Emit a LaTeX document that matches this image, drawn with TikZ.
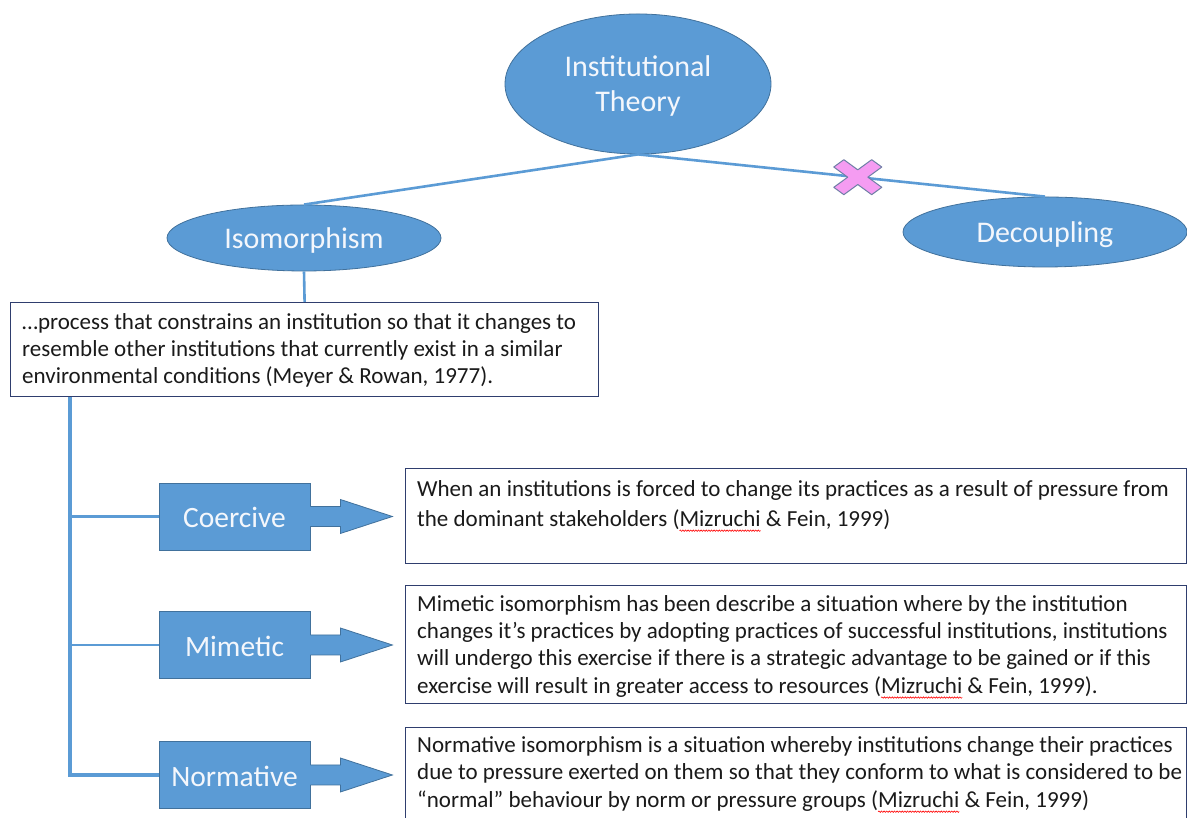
\documentclass[tikz,border=0pt]{standalone}
\usepackage{fontspec}
\setmainfont{Carlito}
\usetikzlibrary{shapes.geometric,calc,decorations.pathmorphing}
\definecolor{fillblue}{HTML}{5B9BD5}
\definecolor{edgeblue}{HTML}{41719C}
\definecolor{lineblue}{HTML}{5B9BD5}
\definecolor{navy}{HTML}{2F3E6E}
\definecolor{xpink}{HTML}{F59CF2}
\definecolor{xedge}{HTML}{6F7FA6}
\definecolor{txt}{HTML}{1A1A1A}
\definecolor{labelwhite}{HTML}{F4F7FC}
\newlength\spw
\newcommand{\spellwave}[1]{\settowidth{\spw}{#1}\rlap{\tikz[overlay,baseline=0pt]\draw[red,line width=0.6pt,decorate,decoration={snake,amplitude=0.7pt,segment length=2.6pt}] (0pt,-4.5pt) -- (\spw,-4.5pt);}#1}
\newcommand{\lowr}[2]{\raisebox{-#1}[\height][\depth]{#2}}
\newcommand\blockarrow[1]{%
  \begin{scope}[shift={(#1.east)}]
    \fill[arrowfill] (-2,10) -- (30,10) -- (30,17) -- (82,0) -- (30,-17) -- (30,-10) -- (-2,-10) -- cycle;
    \draw[arrowedge] (0,10) -- (30,10) -- (30,17) -- (82,0) -- (30,-17) -- (30,-10) -- (0,-10);
  \end{scope}}
\begin{document}
\begin{tikzpicture}[x=1pt,y=1pt,
  oval/.style={ellipse, fill=fillblue, draw=edgeblue, line width=0.8pt, text=labelwhite, inner sep=0pt, font=\fontsize{30}{35}\selectfont, align=center},
  catbox/.style={rectangle, fill=fillblue, draw=edgeblue, line width=0.8pt, text=labelwhite, inner sep=0pt, minimum width=151pt, minimum height=67pt, font=\fontsize{29.5}{34}\selectfont},
  textbox/.style={rectangle, draw=navy, line width=1.2pt, fill=white, inner sep=0pt},
  bodytext/.style={anchor=north west, inner sep=0pt, align=left, text=txt, font=\fontsize{23}{27}\selectfont},
  conn/.style={draw=lineblue, line width=2.6pt},
  trunk/.style={draw=lineblue, line width=3.3pt, line join=miter},
  arrowfill/.style={fill=fillblue},
  arrowedge/.style={draw=edgeblue, line width=0.8pt, line join=miter},
  xmark/.style={fill=xpink, draw=xedge, line width=1pt, line join=round}
]
\useasboundingbox (0,0) rectangle (1187,818);
\fill[white] (0,0) rectangle (1187,818);

% top level
\node[oval, minimum width=266pt, minimum height=140pt] (it) at (638,734) {\lowr{2pt}{Institutional}\\\lowr{2pt}{Theory}};
\node[oval, minimum width=274pt, minimum height=66pt] (iso) at (304,580) {\lowr{3pt}{Isomorphism}};
\node[oval, minimum width=284pt, minimum height=70pt] (dec) at (1045,586) {\lowr{3pt}{Decoupling}};
\draw[conn] (it.south) -- (iso.north);
\draw[conn] (it.south) -- coordinate[pos=0.54] (xc) (dec.north);
\begin{scope}[shift={(xc)}, xscale=24, yscale=17.5]
  \path[xmark] (-1,0.58) -- (-0.58,1) -- (0,0.42) -- (0.58,1) -- (1,0.58) -- (0.42,0) -- (1,-0.58) -- (0.58,-1) -- (0,-0.42) -- (-0.58,-1) -- (-1,-0.58) -- (-0.42,0) -- cycle;
\end{scope}

% definition
\node[textbox, minimum width=588pt, minimum height=94pt, anchor=north west] (def) at (10,516) {};
\node[bodytext] (deft) at ($(def.north west)+(12,-11)$) {…process that constrains an institution so that it changes to\\resemble other institutions that currently exist in a similar\\environmental conditions (Meyer \& Rowan, 1977).};
\draw[conn] (iso.south) -- (def.north);

% categories
\node[catbox] (coe) at (234.5,301.5) {\lowr{1pt}{Coercive}};
\node[catbox] (mim) at (234.5,173) {\lowr{1pt}{Mimetic}};
\node[catbox] (nor) at (234.5,43) {\lowr{1pt}{Normative}};
\coordinate (ttop) at ($(def.south west)+(60,0)$);
\draw[trunk] (ttop) -- (ttop |- nor.west) -- (nor.west);
\draw[conn] (ttop |- coe.west) -- (coe.west);
\draw[conn] (ttop |- mim.west) -- (mim.west);
\blockarrow{coe}
\blockarrow{mim}
\blockarrow{nor}

% text boxes
\node[textbox, minimum width=781pt, minimum height=95pt, anchor=north west] (ctxt) at (405,350) {};
\node[textbox, minimum width=781pt, minimum height=118pt, anchor=north west] (mtxt) at (405,233) {};
\node[textbox, minimum width=781pt, minimum height=95pt, anchor=north west] (ntxt) at (405,91) {};
\node[bodytext, font=\fontsize{23}{30}\selectfont] (ct) at ($(ctxt.north west)+(12,-12)$) {When an institutions is forced to change its practices as a result of pressure from\\the dominant stakeholders (\spellwave{Mizruchi} \& Fein, 1999)};
\node[bodytext, font=\fontsize{23}{27.3}\selectfont] (mt) at ($(mtxt.north west)+(12,-10)$) {Mimetic isomorphism has been describe a situation where by the institution\\changes it’s practices by adopting practices of successful institutions, institutions\\will undergo this exercise if there is a strategic advantage to be gained or if this\\exercise will result in greater access to resources (\spellwave{Mizruchi} \& Fein, 1999).};
\node[bodytext, font=\fontsize{23}{27.5}\selectfont] (nt) at ($(ntxt.north west)+(12,-9)$) {Normative isomorphism is a situation whereby institutions change their practices\\due to pressure exerted on them so that they conform to what is considered to be\\“normal” behaviour by norm or pressure groups (\spellwave{Mizruchi} \& Fein, 1999)};
\end{tikzpicture}
\end{document}
